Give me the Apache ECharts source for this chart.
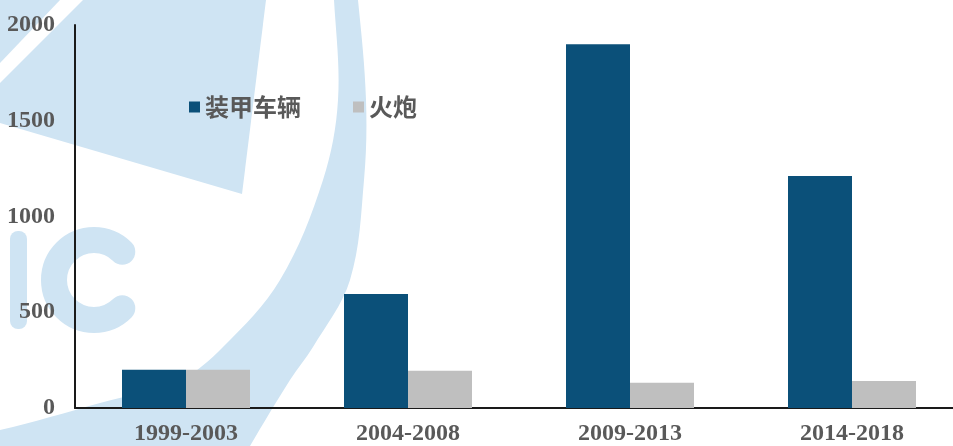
<!DOCTYPE html>
<html>
<head>
<meta charset="utf-8">
<script src="https://cdn.jsdelivr.net/npm/echarts@6/dist/echarts.min.js"></script>
<style>
  html, body { margin: 0; padding: 0; background: #ffffff; overflow: hidden; }
  #chart { width: 963px; height: 446px; }
</style>
</head>
<body>
<div id="chart"></div>
<script>
// Periods and deliveries (units) per equipment type
const periods = ['1999-2003', '2004-2008', '2009-2013', '2014-2018'];
const armouredVehicles = [200, 595, 1900, 1212];
const artillery = [200, 194, 132, 141];
const seriesNames = ['装甲车辆', '火炮'];
const yTicks = { min: 0, max: 2000, interval: 500 };

const WM = '#cfe4f3';   // light watermark tone
const TEXT = '#595959';

// Background logo mark, drawn behind the plot
const logo = [
  // top-left corner wedge
  { type: 'polygon', z: -10, silent: true,
    shape: { points: [[0, 0], [60, 0], [0, 63]] }, style: { fill: WM } },
  // large fan
  { type: 'polygon', z: -10, silent: true,
    shape: { points: [[83, 0], [266, 0], [242, 194], [0, 123], [0, 83]] },
    style: { fill: WM } },
  // sweeping crescent band
  { type: 'polygon', z: -10, silent: true,
    shape: {
      smooth: 0.35,
      points: [
        [352, -40], [358, 0], [366, 100], [364, 180], [350, 280], [313, 347],
        [290, 380], [250, 446], [225, 490], [-60, 490], [-60, 440],
        [0, 430], [100, 403], [180, 380], [223, 347], [280, 280],
        [323, 180], [338, 100], [334, 0], [330, -40]
      ]
    },
    style: { fill: WM } },
  // letter I
  { type: 'rect', z: -10, silent: true,
    shape: { x: 10, y: 231, width: 17, height: 98, r: 8 }, style: { fill: WM } },
  // letter C
  { type: 'arc', z: -10, silent: true,
    shape: { cx: 94, cy: 280, r: 40, startAngle: Math.PI / 4, endAngle: Math.PI * 7 / 4, clockwise: true },
    style: { stroke: WM, lineWidth: 26, lineCap: 'round', fill: null } }
];

const chart = echarts.init(document.getElementById('chart'), null, { renderer: 'canvas' });

chart.setOption({
  animation: false,
  backgroundColor: '#ffffff',
  graphic: logo,
  grid: { left: 75, top: 25, right: 0, height: 384, containLabel: false },
  legend: {
    left: 189, top: 95, padding: 0,
    itemWidth: 11, itemHeight: 11, itemGap: 52,
    icon: 'rect',
    data: seriesNames,
    textStyle: { fontFamily: '"Noto Sans CJK SC"', fontSize: 24, fontWeight: 'bold', color: TEXT }
  },
  xAxis: {
    type: 'category',
    data: periods,
    axisLine: { lineStyle: { color: '#1a1a1a', width: 2 } },
    axisTick: { show: false },
    axisLabel: {
      margin: 14,
      fontFamily: '"Liberation Serif"', fontSize: 24, fontWeight: 'bold', color: TEXT
    }
  },
  yAxis: {
    type: 'value',
    min: yTicks.min, max: yTicks.max, interval: yTicks.interval,
    axisLine: { show: true, lineStyle: { color: '#1a1a1a', width: 2 } },
    axisTick: { show: false },
    splitLine: { show: false },
    axisLabel: {
      margin: 20,
      formatter: (v) => String(v),
      fontFamily: '"Liberation Serif"', fontSize: 24, fontWeight: 'bold', color: TEXT
    }
  },
  series: [
    { name: seriesNames[0], type: 'bar', data: armouredVehicles,
      barWidth: 64, barGap: '0%', itemStyle: { color: '#0b5079' } },
    { name: seriesNames[1], type: 'bar', data: artillery,
      barWidth: 64, barGap: '0%', itemStyle: { color: '#bfbfbf' } }
  ]
});
</script>
</body>
</html>
